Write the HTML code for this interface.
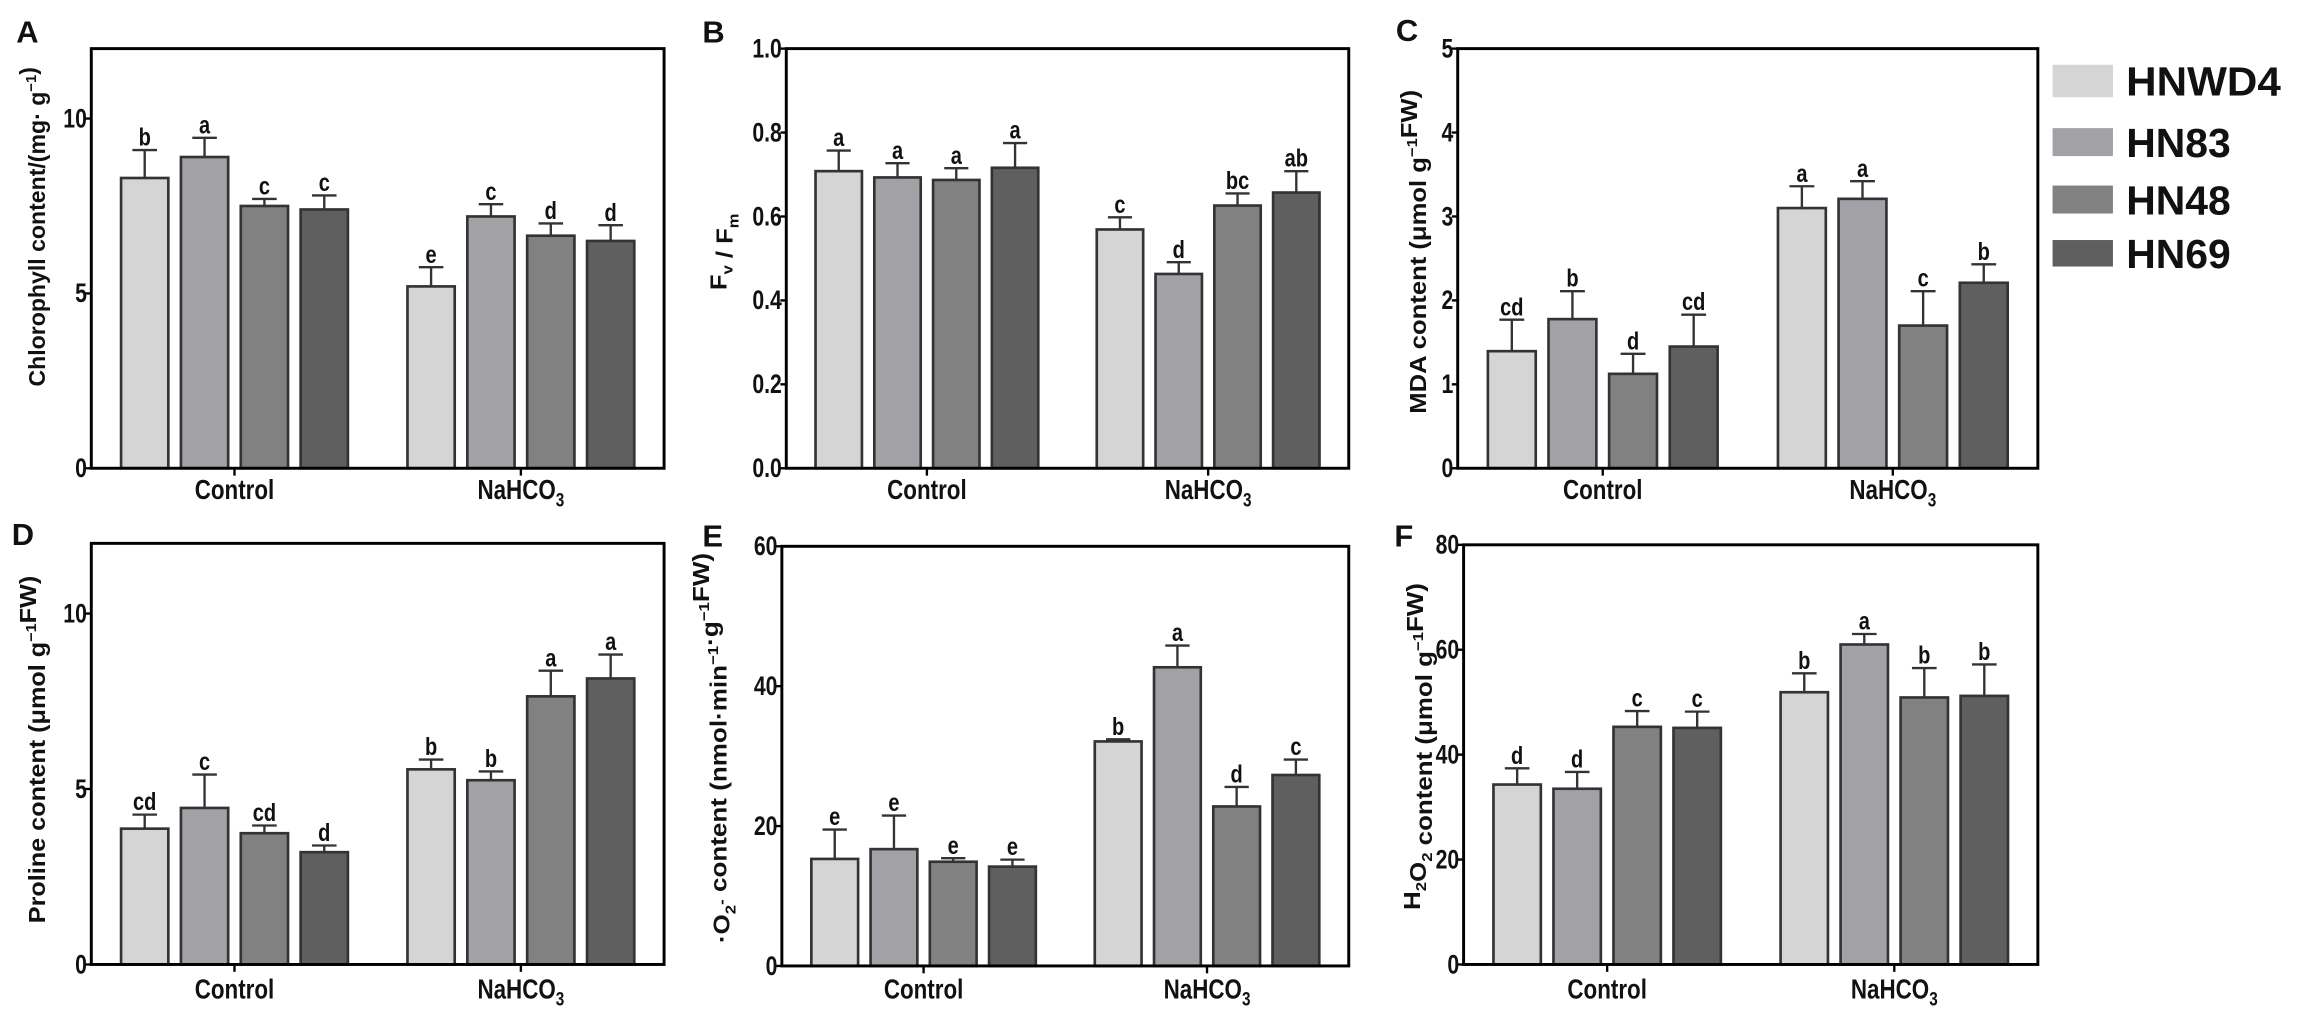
<!DOCTYPE html>
<html><head><meta charset="utf-8">
<style>
html,body{margin:0;padding:0;background:#fff;}
svg{display:block;}
text{font-family:"Liberation Sans",Arial,sans-serif;fill:#111;}
.n{font-family:"Liberation Sans Narrow","Liberation Sans",Arial,sans-serif;font-weight:bold;}
.t{font-weight:bold;}
</style></head>
<body>
<svg id="fig" width="2297" height="1020" viewBox="0 0 1560 692.7" xmlns="http://www.w3.org/2000/svg"></svg>
<script>
const categories = ["Control", "NaHCO3"];
const seriesNames = ["HNWD4", "HN83", "HN48", "HN69"];
const chlValues = [[8.3, 8.9, 7.5, 7.4], [5.2, 7.2, 6.65, 6.5]];
const chlErrTop = [[9.1, 9.45, 7.7, 7.8], [5.75, 7.55, 7.0, 6.95]];
const chlLetters = [["b","a","c","c"],["e","c","d","d"]];
const fvValues = [[0.708, 0.693, 0.687, 0.716], [0.569, 0.463, 0.626, 0.657]];
const fvErrTop = [[0.757, 0.727, 0.715, 0.775], [0.598, 0.491, 0.655, 0.708]];
const fvLetters = [["a","a","a","a"],["c","d","bc","ab"]];
const mdaValues = [[1.395, 1.777, 1.125, 1.45], [3.10, 3.21, 1.70, 2.21]];
const mdaErrTop = [[1.77, 2.11, 1.363, 1.83], [3.36, 3.42, 2.11, 2.43]];
const mdaLetters = [["cd","b","d","cd"],["a","a","c","b"]];
const proValues = [[3.87, 4.46, 3.74, 3.20], [5.56, 5.25, 7.64, 8.15]];
const proErrTop = [[4.27, 5.41, 3.96, 3.39], [5.84, 5.50, 8.37, 8.83]];
const proLetters = [["cd","c","cd","d"],["b","b","a","a"]];
const o2Values = [[15.3, 16.7, 14.9, 14.2], [32.1, 42.7, 22.8, 27.3]];
const o2ErrTop = [[19.5, 21.5, 15.4, 15.2], [32.4, 45.8, 25.6, 29.5]];
const o2Letters = [["e","e","e","e"],["b","a","d","c"]];
const h2o2Values = [[34.3, 33.5, 45.3, 45.1], [51.9, 61.0, 50.9, 51.2]];
const h2o2ErrTop = [[37.4, 36.7, 48.3, 48.2], [55.5, 63.0, 56.5, 57.2]];
const h2o2Letters = [["d","d","c","c"],["b","a","b","b"]];
const ticksA = [0, 5, 10];
const ticksB = [0, 0.2, 0.4, 0.6, 0.8, 1.0];
const ticksC = [0, 1, 2, 3, 4, 5];
const ticksD = [0, 5, 10];
const ticksE = [0, 20, 40, 60];
const ticksF = [0, 20, 40, 60, 80];
const tickLabelsB = ["0.0","0.2","0.4","0.6","0.8","1.0"];

const fills = ["#d5d5d5", "#a2a2a6", "#818181", "#5f5f5f"];
const NS = "http://www.w3.org/2000/svg";
const svg = document.getElementById("fig");
function mk(tag, attrs, parent) {
  const e = document.createElementNS(NS, tag);
  for (const k in attrs) e.setAttribute(k, attrs[k]);
  (parent || svg).appendChild(e);
  return e;
}
// condensed bold text via horizontal scaling
function ntext(x, y, size, anchor, parent) {
  return mk("text", {x: 0, y: 0, transform: `translate(${x},${y}) scale(0.8,1)`, "text-anchor": anchor, "font-size": size, class: "n"}, parent);
}

function panel(cfg) {
  const g = mk("g", {});
  
  
  const L = cfg.x0, R = cfg.x1, T = cfg.y0, B = cfg.y1;
  const y = v => B - (v / cfg.ymax) * (B - T);
  const band = (R - L) / categories.length;
  const xc = ci => L + band * (ci + 0.5);
  const step = band * 0.209, bw = band * 0.165;
  for (let ci = 0; ci < categories.length; ci++) {
    for (let si = 0; si < seriesNames.length; si++) {
      const v = cfg.values[ci][si], et = cfg.err[ci][si];
      const cx = xc(ci) + (si - 1.5) * step;
      const r = mk("rect", {x: cx - bw/2, y: y(v), width: bw, height: B - y(v), fill: fills[si], stroke: "#333", "stroke-width": 1.8}, g);
      
      
      const eb = mk("path", {d: `M${cx},${y(v)}V${y(et)}M${cx - bw*0.26},${y(et)}H${cx + bw*0.26}`, stroke: "#333", "stroke-width": 1.6, fill: "none"}, g);
      
      
      const lt = ntext(cx, y(et) - 3, 17, "middle", g);
      lt.textContent = cfg.letters[ci][si];
      
      
    }
    mk("line", {x1: xc(ci), x2: xc(ci), y1: B, y2: B + 5, stroke: "#000", "stroke-width": 1.6}, g);
    const cl = ntext(xc(ci), cfg.labY, 19, "middle", g);
    
    
    if (categories[ci] === "NaHCO3") {
      cl.appendChild(document.createTextNode("NaHCO"));
      const s = mk("tspan", {"font-size": 13, dy: 5}, cl); s.textContent = "3";
    } else cl.textContent = categories[ci];
  }
  const fr = mk("rect", {x: L, y: T, width: R - L, height: B - T, fill: "none", stroke: "#000", "stroke-width": 2}, g);
  
  
  cfg.ticks.forEach((t, i) => {
    mk("line", {x1: L - 4, x2: L, y1: y(t), y2: y(t), stroke: "#000", "stroke-width": 1.6}, g);
    const tl = ntext(L - 3, y(t) + 6, 18, "end", g);
    tl.textContent = cfg.tickLabels ? cfg.tickLabels[i] : String(t);
    
    
  });
  const pl = mk("text", {x: cfg.lx, y: cfg.ly, "font-size": 21, class: "t"}, g);
  pl.textContent = cfg.letter;
  
  
  const yt = mk("text", {transform: `translate(${cfg.tx},${cfg.ty}) rotate(-90)`, "text-anchor": "middle", "font-size": 15.5, class: "t", textLength: cfg.tl, lengthAdjust: "spacingAndGlyphs", y: 5.5}, g);
  
  
  yt.innerHTML = cfg.title;
}

const sup = s => `<tspan font-size="10" dy="-6">${s}</tspan><tspan dy="6"></tspan>`;
const sub = s => `<tspan font-size="10" dy="4">${s}</tspan><tspan dy="-4"></tspan>`;

panel({name:"panel-a-chlorophyll", x0:62, x1:451, y0:33, y1:318, ymax:12, values:chlValues, err:chlErrTop, letters:chlLetters, ticks:ticksA, labY:339, letter:"A", lx:11, ly:29, tx:25, ty:154, tl:217, title:"Chlorophyll content/(mg· g"+sup("−1")+")"});
panel({name:"panel-b-fvfm", x0:534, x1:916, y0:33, y1:318, ymax:1, values:fvValues, err:fvErrTop, letters:fvLetters, ticks:ticksB, tickLabels:tickLabelsB, labY:339, letter:"B", lx:477, ly:29, tx:488, ty:171, tl:52, title:"F"+sub("v")+" / F"+sub("m")});
panel({name:"panel-c-mda", x0:990, x1:1384, y0:33, y1:318, ymax:5, values:mdaValues, err:mdaErrTop, letters:mdaLetters, ticks:ticksC, labY:339, letter:"C", lx:948, ly:28, tx:963, ty:171, tl:220, title:"MDA content (μmol g"+sup("−1")+"FW)"});
panel({name:"panel-d-proline", x0:62, x1:451, y0:369, y1:655, ymax:12, values:proValues, err:proErrTop, letters:proLetters, ticks:ticksD, labY:678, letter:"D", lx:8, ly:370, tx:25, ty:509, tl:236, title:"Proline content (μmol g"+sup("−1")+"FW)"});
panel({name:"panel-e-superoxide", x0:531, x1:916, y0:371, y1:656, ymax:60, values:o2Values, err:o2ErrTop, letters:o2Letters, ticks:ticksE, labY:678, letter:"E", lx:477, ly:371, tx:490, ty:508, tl:265, title:"·O"+sub("2")+sup("-")+" content (nmol·min"+sup("−1")+"·g"+sup("−1")+"FW)"});
panel({name:"panel-f-h2o2", x0:994, x1:1384, y0:370, y1:655, ymax:80, values:h2o2Values, err:h2o2ErrTop, letters:h2o2Letters, ticks:ticksF, labY:678, letter:"F", lx:947, ly:371, tx:959, ty:507, tl:222, title:"H"+sub("2")+"O"+sub("2")+" content (μmol g"+sup("−1")+"FW)"});

const legY = [44, 87, 126, 163];
const legH = [22, 19, 19, 18];
const legW = [105, 71, 71, 71];
const lg = mk("g", {});


seriesNames.forEach((s, i) => {
  const sw = mk("rect", {x: 1394, y: legY[i], width: 41, height: legH[i], fill: fills[i]}, lg);
  
  
  const t = mk("text", {x: 1444, y: legY[i] + legH[i]/2 + 10, "font-size": 28, class: "n", textLength: legW[i], lengthAdjust: "spacingAndGlyphs"}, lg);
  t.textContent = s;
  
  
});
</script>
</body></html>
